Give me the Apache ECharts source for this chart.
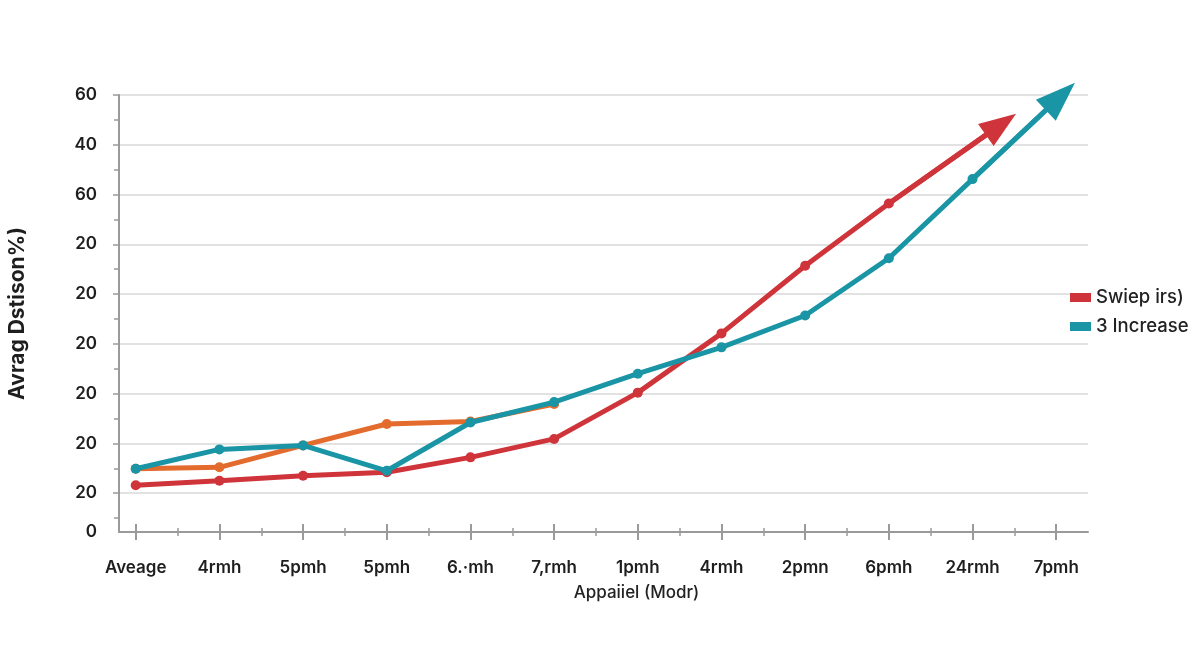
<!DOCTYPE html>
<html>
<head>
<meta charset="utf-8">
<script src="https://cdn.jsdelivr.net/npm/echarts@6.0.0/dist/echarts.min.js"></script>
<style>
  html, body { margin: 0; padding: 0; background: #ffffff; }
  #chart { width: 1200px; height: 654px; }
</style>
</head>
<body>
<div id="chart"></div>
<script>
// categories along the x axis
var categories = ['Aveage', '4rmh', '5pmh', '5pmh', '6.·mh', '7,rmh', '1pmh', '4rmh', '2pmn', '6pmh', '24rmh', '7pmh'];

// y axis tick labels (bottom to top) and where they sit
var yTickValues = [-0.78, 0, 1, 2, 3, 4, 5, 6, 7, 8];
var yTickLabels = ['0', '20', '20', '20', '20', '20', '20', '60', '40', '60'];

// series values, one per category (in grid-line units)
var sweepValues = [0.16, 0.25, 0.35, 0.42, 0.72, 1.09, 2.02, 3.21, 4.57, 5.82];
var sweepEnd = [10.34, 7.41];
var increaseValues = [0.49, 0.88, 0.96, 0.45, 1.42, 1.83, 2.40, 2.93, 3.57, 4.72, 6.31];
var increaseEnd = [11.05, 7.97];
var orangeValues = [0.49, 0.52, 0.96, 1.39, 1.44, 1.79];

var RED = '#cf343a';
var TEAL = '#1a95a5';
var ORANGE = '#e26b2d';
var FONT = 'Inter';

var chart = echarts.init(document.getElementById('chart'));

function pts(vals) {
    return vals.map(function (v, i) { return [i, v]; });
}
function withEnd(vals, end) {
    var d = pts(vals);
    d.push({ value: end, symbol: 'none' });
    return d;
}
function arrow(vals, end, color, size) {
    var last = vals.length - 1;
    return {
        silent: true,
        animation: false,
        symbol: ['none', 'triangle'],
        symbolSize: size,
        label: { show: false },
        emphasis: { disabled: true },
        lineStyle: { color: color, width: 5, type: 'solid', opacity: 1 },
        data: [[{ coord: [last, vals[last]] }, { coord: end }]]
    };
}

var catTicks = categories.map(function (c, i) { return i; });
var halfTicks = categories.slice(1).map(function (c, i) { return i + 0.5; });
var yMajor = [0, 1, 2, 3, 4, 5, 6, 7, 8];
var yMinor = [-0.5, 0.5, 1.5, 2.5, 3.5, 4.5, 5.5, 6.5, 7.5];

var xBase = {
    type: 'value',
    min: -0.2,
    max: 11.38,
    position: 'bottom',
    splitLine: { show: false },
    axisLabel: { show: false },
    axisLine: { show: false, onZero: false }
};

option = {
    animation: false,
    grid: {
        left: 119,
        right: 112,
        top: 95,
        bottom: 122,
        containLabel: false,
        outerBoundsMode: 'none'
    },
    legend: {
        orient: 'vertical',
        left: 1065,
        top: 283,
        itemGap: 10,
        itemWidth: 21,
        itemHeight: 9,
        icon: 'rect',
        data: ['Swiep irs)', '3 Increase'],
        textStyle: { fontFamily: FONT, fontSize: 18.5, fontWeight: 500, color: '#222222' }
    },
    xAxis: [
        {
            type: 'value',
            min: -0.2,
            max: 11.38,
            position: 'bottom',
            name: 'Appaiiel (Modr)',
            nameLocation: 'middle',
            nameGap: 52,
            nameTextStyle: {
                fontFamily: FONT, fontSize: 17, fontWeight: 500, color: '#222222',
                padding: [0, 0, 0, 66]
            },
            splitLine: { show: false },
            axisLine: { onZero: false, lineStyle: { color: '#9a9a9a', width: 2 } },
            axisTick: { customValues: catTicks, length: 8, lineStyle: { color: '#9a9a9a', width: 2 } },
            axisLabel: {
                customValues: catTicks,
                margin: 27,
                fontFamily: FONT, fontSize: 17, fontWeight: 600, color: '#1e1e1e',
                formatter: function (v) { return categories[Math.round(v)]; }
            }
        },
        Object.assign({}, xBase, {
            axisTick: { customValues: catTicks, inside: true, length: 8, lineStyle: { color: '#9a9a9a', width: 2 } }
        }),
        Object.assign({}, xBase, {
            axisTick: { customValues: halfTicks, length: 4, lineStyle: { color: '#9a9a9a', width: 1.5 } }
        }),
        Object.assign({}, xBase, {
            axisTick: { customValues: halfTicks, inside: true, length: 4, lineStyle: { color: '#9a9a9a', width: 1.5 } }
        })
    ],
    yAxis: [
        {
            type: 'value',
            min: -0.78,
            max: 8,
            position: 'left',
            name: 'Avrag Dstison%)',
            nameLocation: 'middle',
            nameGap: 91,
            nameTextStyle: { fontFamily: FONT, fontSize: 21, fontWeight: 700, color: '#1e1e1e' },
            axisLine: { show: true, onZero: false, lineStyle: { color: '#9a9a9a', width: 2 } },
            axisTick: { customValues: yMajor, length: 6, lineStyle: { color: '#9a9a9a', width: 1.5 } },
            splitLine: { show: true, lineStyle: { color: '#d8d8d8', width: 1.5 } },
            axisLabel: {
                customValues: yTickValues,
                margin: 22,
                fontFamily: FONT, fontSize: 17, fontWeight: 600, color: '#1e1e1e',
                formatter: function (v) {
                    for (var i = 0; i < yTickValues.length; i++) {
                        if (Math.abs(yTickValues[i] - v) < 1e-6) return yTickLabels[i];
                    }
                    return '';
                }
            }
        },
        {
            type: 'value',
            min: -0.78,
            max: 8,
            position: 'left',
            axisLine: { show: false, onZero: false },
            axisTick: { customValues: yMinor, length: 5, lineStyle: { color: '#9a9a9a', width: 1.5 } },
            axisLabel: { show: false },
            splitLine: { show: false }
        }
    ],
    series: [
        {
            name: 'Swiep irs)',
            type: 'line',
            data: withEnd(sweepValues, sweepEnd),
            symbol: 'circle',
            symbolSize: 10,
            color: RED,
            lineStyle: { width: 5, color: RED },
            itemStyle: { color: RED },
            z: 2,
            markLine: arrow(sweepValues, sweepEnd, RED, [27, 37])
        },
        {
            name: 'orange',
            type: 'line',
            data: pts(orangeValues),
            symbol: 'circle',
            symbolSize: 10,
            color: ORANGE,
            lineStyle: { width: 5, color: ORANGE },
            itemStyle: { color: ORANGE },
            z: 3
        },
        {
            name: '3 Increase',
            type: 'line',
            data: withEnd(increaseValues, increaseEnd),
            symbol: 'circle',
            symbolSize: 10,
            color: TEAL,
            lineStyle: { width: 5, color: TEAL },
            itemStyle: { color: TEAL },
            z: 4,
            markLine: arrow(increaseValues, increaseEnd, TEAL, [29, 40])
        }
    ]
};
chart.setOption(option);
</script>
</body>
</html>
